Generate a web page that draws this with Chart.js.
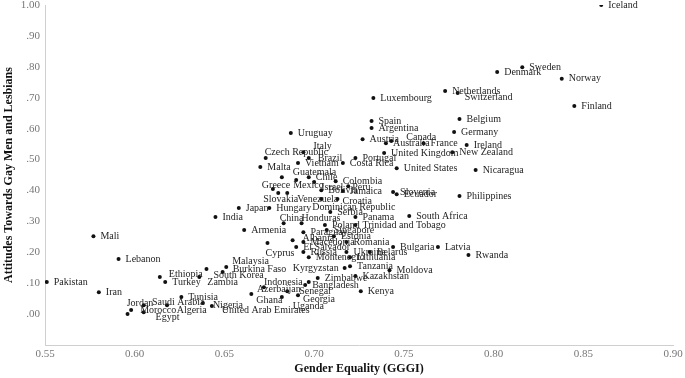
<!DOCTYPE html>
<html>
<head>
<meta charset="utf-8">
<script src="https://cdn.jsdelivr.net/npm/chart.js@4"></script>
<style>
  body { margin: 0; background: #fff; }
  #wrap { width: 685px; height: 378px; }
</style>
</head>
<body>
<div id="wrap"><canvas id="chart"></canvas></div>
<script>
const countries = ['Iceland', 'Sweden', 'Denmark', 'Norway', 'Finland', 'Netherlands', 'Switzerland', 'Luxembourg',
    'Spain', 'Argentina', 'Belgium', 'Germany', 'Austria', 'Canada', 'Australia', 'France', 'Ireland',
    'United Kingdom', 'New Zealand', 'Portugal', 'Costa Rica', 'United States', 'Nicaragua', 'Uruguay', 'Italy',
    'Czech Republic', 'Brazil', 'Vietnam', 'Malta', 'Guatemala', 'Chile', 'Greece', 'Mexico', 'Israel',
    'Colombia', 'Peru', 'Bolivia', 'Jamaica', 'Slovakia', 'Venezuela', 'Croatia', 'Dominican Republic',
    'Japan', 'Hungary', 'India', 'Slovenia', 'Ecuador', 'Philippines', 'South Africa', 'Panama',
    'Trinidad and Tobago', 'Serbia', 'China', 'Honduras', 'Poland', 'Armenia', 'Paraguay', 'Singapore',
    'Estonia', 'Albania', 'Macedonia', 'Romania', 'Cyprus', 'El Salvador', 'Russia', 'Ukraine', 'Belarus',
    'Montenegro', 'Lithuania', 'Bulgaria', 'Latvia', 'Rwanda', 'Kyrgyzstan', 'Tanzania', 'Moldova',
    'Kazakhstan', 'Zimbabwe', 'Indonesia', 'Bangladesh', 'Kenya', 'Azerbaijan', 'Senegal', 'Georgia',
    'Ghana', 'Uganda', 'United Arab Emirates', 'Nigeria', 'Tunisia', 'Saudi Arabia', 'Jordan', 'Morocco',
    'Algeria', 'Egypt', 'Ethiopia', 'Turkey', 'Zambia', 'South Korea', 'Malaysia', 'Burkina Faso',
    'Pakistan', 'Iran', 'Mali', 'Lebanon'];

// Gender Equality (GGGI)
const gggi = [0.860, 0.816, 0.802, 0.838, 0.845, 0.773, 0.780, 0.733,
    0.732, 0.732, 0.781, 0.778, 0.727, 0.743, 0.740, 0.761, 0.785,
    0.739, 0.777, 0.723, 0.716, 0.746, 0.790, 0.687, 0.694,
    0.673, 0.697, 0.691, 0.670, 0.682, 0.697, 0.677, 0.690, 0.700,
    0.712, 0.719, 0.704, 0.716, 0.680, 0.685, 0.713, 0.704,
    0.658, 0.675, 0.645, 0.744, 0.746, 0.781, 0.753, 0.723,
    0.723, 0.709, 0.683, 0.693, 0.706, 0.661, 0.694, 0.707,
    0.711, 0.688, 0.694, 0.718, 0.674, 0.690, 0.694, 0.718, 0.731,
    0.697, 0.720, 0.744, 0.769, 0.786, 0.717, 0.720, 0.742,
    0.723, 0.702, 0.697, 0.695, 0.726, 0.672, 0.685, 0.691,
    0.665, 0.682, 0.643, 0.638, 0.626, 0.618, 0.605, 0.598,
    0.605, 0.596, 0.614, 0.617, 0.636, 0.640, 0.651, 0.649,
    0.551, 0.580, 0.577, 0.591];

// Attitudes Towards Gay Men and Lesbians
const attitudes = [1.000, 0.799, 0.783, 0.761, 0.673, 0.722, 0.715, 0.699,
    0.625, 0.602, 0.631, 0.589, 0.566, 0.560, 0.553, 0.553, 0.547,
    0.521, 0.524, 0.505, 0.489, 0.472, 0.466, 0.586, 0.524,
    0.505, 0.505, 0.489, 0.476, 0.443, 0.443, 0.405, 0.434, 0.427,
    0.430, 0.414, 0.401, 0.398, 0.392, 0.392, 0.372, 0.372,
    0.343, 0.343, 0.314, 0.395, 0.388, 0.382, 0.317, 0.314,
    0.288, 0.330, 0.294, 0.294, 0.288, 0.272, 0.265, 0.272,
    0.252, 0.239, 0.233, 0.233, 0.230, 0.217, 0.201, 0.201, 0.201,
    0.184, 0.184, 0.217, 0.217, 0.191, 0.149, 0.155, 0.142,
    0.123, 0.117, 0.104, 0.094, 0.074, 0.087, 0.074, 0.061,
    0.065, 0.055, 0.026, 0.036, 0.055, 0.029, 0.029, 0.013,
    0.006, 0.000, 0.120, 0.104, 0.120, 0.146, 0.152, 0.136,
    0.104, 0.071, 0.252, 0.178];

const xTicks = [0.55, 0.60, 0.65, 0.70, 0.75, 0.80, 0.85, 0.90];
const yTicks = [0.0, 0.1, 0.2, 0.3, 0.4, 0.5, 0.6, 0.7, 0.8, 0.9, 1.0];

// label placement tweaks (pixels), default is just right of the dot
const labelShift = {
    'Czech Republic': [-1, -6], 'Italy': [10, -6], 'Brazil': [9, 0], 'Guatemala': [11, -5],
    'Greece': [-11, -4], 'Mexico': [-3, 5], 'Israel': [7, 5], 'Peru': [4, 1],
    'Slovakia': [-15, 6], 'Venezuela': [10, 6], 'Croatia': [5, 2], 'Dominican Republic': [-9, 8],
    'China': [-4, -5], 'Honduras': [0, -5], 'Albania': [10, -2], 'Cyprus': [-2, 10],
    'Kyrgyzstan': [-6, 0], 'Indonesia': [-6, 0], 'Azerbaijan': [-7, 2], 'Senegal': [12, 0],
    'Georgia': [5, 4], 'Ghana': [5, 6], 'Uganda': [11, 9], 'United Arab Emirates': [10, 4],
    'Nigeria': [10, 2], 'Saudi Arabia': [-15, -3], 'Jordan': [-17, -2], 'Morocco': [9, 0],
    'Algeria': [33, -2], 'Egypt': [28, 3], 'Ethiopia': [9, -3], 'Zambia': [8, 5],
    'South Korea': [7, 6], 'Malaysia': [6, -6], 'Burkina Faso': [10, -3], 'Canada': [15, -4],
    'Switzerland': [7, 4]
};
const leftLabels = ['Kyrgyzstan', 'Indonesia'];

const labelPlugin = {
    id: 'countryLabels',
    afterDatasetsDraw(chart) {
        const ctx = chart.ctx;
        const meta = chart.getDatasetMeta(0);
        ctx.save();
        ctx.font = '10px "Liberation Serif"';
        ctx.fillStyle = '#1e1e1e';
        ctx.textBaseline = 'middle';
        meta.data.forEach((pt, i) => {
            const name = countries[i];
            const s = labelShift[name] || [7, 0];
            ctx.textAlign = leftLabels.includes(name) ? 'right' : 'left';
            ctx.fillText(name, pt.x + s[0], pt.y + s[1]);
        });
        ctx.restore();
    }
};

const points = countries.map((c, i) => ({x: gggi[i], y: attitudes[i]}));

new Chart(document.getElementById('chart'), {
    type: 'scatter',
    data: {
        datasets: [{
            data: points,
            pointRadius: 2,
            pointBackgroundColor: '#111',
            pointBorderWidth: 0
        }]
    },
    options: {
        responsive: true,
        maintainAspectRatio: false,
        animation: false,
        layout: { padding: { left: 0, top: 5, right: 12, bottom: 0 } },
        plugins: { legend: { display: false }, tooltip: { enabled: false } },
        scales: {
            x: {
                min: 0.55,
                max: 0.90,
                afterFit: scale => { scale.height = 33; scale.paddingLeft = 0; scale.paddingRight = 0; },
                afterBuildTicks: scale => { scale.ticks = xTicks.map(v => ({value: v})); },
                grid: { display: false, drawTicks: false },
                border: { display: true, color: '#cfcfcf', width: 1 },
                ticks: {
                    padding: 3,
                    color: '#777',
                    font: { family: 'Liberation Serif', size: 11 },
                    callback: v => v.toFixed(2)
                },
                title: {
                    display: true,
                    text: 'Gender Equality (GGGI)',
                    color: '#111',
                    padding: { top: 2, bottom: 2 },
                    font: { family: 'Liberation Serif', size: 12, weight: 'bold' }
                }
            },
            y: {
                min: -0.1,
                max: 1.0,
                afterFit: scale => { scale.width = 45; scale.paddingTop = 0; scale.paddingBottom = 0; },
                afterBuildTicks: scale => { scale.ticks = yTicks.map(v => ({value: v})); },
                grid: { display: false, drawTicks: false },
                border: { display: true, color: '#cfcfcf', width: 1 },
                ticks: {
                    padding: 5,
                    color: '#777',
                    font: { family: 'Liberation Serif', size: 11 },
                    callback: v => {
                        const s = v.toFixed(2);
                        return s.startsWith('0') ? s.slice(1) : s;
                    }
                },
                title: {
                    display: true,
                    text: 'Attitudes Towards Gay Men and Lesbians',
                    color: '#111',
                    padding: { top: 2, bottom: 2 },
                    font: { family: 'Liberation Serif', size: 12, weight: 'bold' }
                }
            }
        }
    },
    plugins: [labelPlugin]
});
</script>
</body>
</html>
